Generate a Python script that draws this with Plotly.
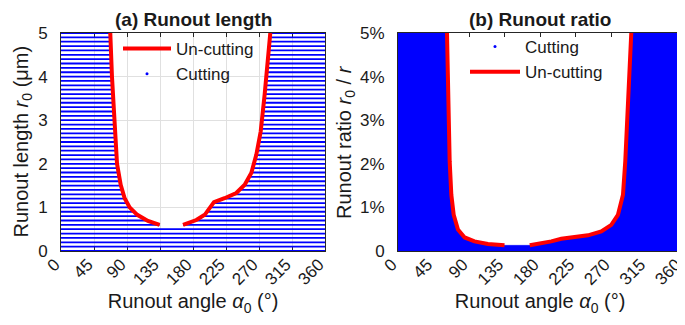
import numpy as np
import plotly.graph_objects as go

# ---------------- data ----------------
# Panel (a): boundary of the un-cutting region (angle in deg, runout length in um)
a_left_angle = [134.5, 118.6, 104.0, 93.6, 86.8, 81.4, 76.4, 72.3, 69.5, 67.2]
a_left_r0 = [0.60, 0.69, 0.83, 1.00, 1.21, 1.52, 2.00, 3.00, 4.00, 5.00]
a_right_angle = [166.4, 184.5, 196.0, 202.8, 208.6, 223.0, 239.0, 250.5, 259.5, 266.4, 272.3, 277.7, 282.3, 285.4]
a_right_r0 = [0.60, 0.71, 0.83, 0.98, 1.12, 1.21, 1.33, 1.52, 1.79, 2.21, 2.74, 3.59, 4.35, 5.00]
# sampled runout-length levels of the cutting grid (um)
a_levels = [0.0, 0.1, 0.2, 0.3, 0.4, 0.5, 0.6, 0.7, 0.8, 0.9,
            1.0, 1.1, 1.2, 1.3, 1.4, 1.5, 1.6, 1.7, 1.8, 1.9,
            2.0, 2.1, 2.2, 2.3, 2.4, 2.5, 2.6, 2.7, 2.8, 2.9,
            3.0, 3.1, 3.2, 3.3, 3.4, 3.5, 3.6, 3.7, 3.8, 3.9,
            4.0, 4.1, 4.2, 4.3, 4.4, 4.5, 4.6, 4.7, 4.8, 4.9, 5.0]

# Panel (b): boundary of the un-cutting region (angle in deg, runout ratio in %)
b_left_angle = [62.1, 63.4, 65.5, 67.6, 70.6, 76.0, 84.5, 97.0, 114.0, 135.0]
b_left_ratio = [5.0, 3.58, 2.06, 1.29, 0.83, 0.49, 0.31, 0.22, 0.16, 0.13]
b_right_angle = [167.0, 177.4, 194.3, 207.0, 219.6, 240.8, 257.7, 270.4, 278.8, 285.2, 288.1, 290.7, 293.6, 295.7]
b_right_ratio = [0.13, 0.16, 0.22, 0.28, 0.31, 0.36, 0.45, 0.60, 0.83, 1.29, 2.06, 3.20, 4.35, 5.0]

x_ticks = [0, 45, 90, 135, 180, 225, 270, 315, 360]
a_yticks = [0, 1, 2, 3, 4, 5]
b_yticks = [0, 1, 2, 3, 4, 5]
b_yticktext = ["0", "1%", "2%", "3%", "4%", "5%"]

X_MIN, X_MAX = 0, 360
A_MAX = 5
B_MAX = 5

BLUE = "#0000ff"
RED = "#ff0000"
TXT = "#1a1a1a"
FONT = "Liberation Sans, Arial, sans-serif"

fig = go.Figure()

# ---- panel (a): cutting grid rows drawn as horizontal stripes ----
order_l = np.argsort(a_left_r0)
order_r = np.argsort(a_right_r0)
lr = np.array(a_left_r0)[order_l]; la = np.array(a_left_angle)[order_l]
rr = np.array(a_right_r0)[order_r]; ra = np.array(a_right_angle)[order_r]
r_start = min(lr[0], rr[0])
sx, sy = [], []
for r in a_levels:
    if r < r_start - 1e-9:
        sx += [X_MIN, X_MAX, None]; sy += [r, r, None]
    else:
        L = float(np.interp(r, lr, la)); R = float(np.interp(r, rr, ra))
        sx += [X_MIN, L, None, R, X_MAX, None]; sy += [r, r, None, r, r, None]
fig.add_trace(go.Scatter(x=sx, y=sy, mode="lines", line=dict(color=BLUE, width=1.8),
                         showlegend=False, hoverinfo="skip", xaxis="x", yaxis="y"))
fig.add_trace(go.Scatter(x=[None], y=[None], mode="markers", name="Cutting",
                         marker=dict(color=BLUE, size=3), legend="legend", legendrank=2,
                         xaxis="x", yaxis="y"))
fig.add_trace(go.Scatter(x=a_left_angle + [None] + a_right_angle,
                         y=a_left_r0 + [None] + a_right_r0,
                         mode="lines", name="Un-cutting", line=dict(color=RED, width=4),
                         legend="legend", legendrank=1, xaxis="x", yaxis="y"))

# ---- panel (b): cutting region as a solid fill ----
poly_x = [X_MIN, X_MIN] + b_left_angle + b_right_angle + [X_MAX, X_MAX]
poly_y = [0, B_MAX] + b_left_ratio + b_right_ratio + [B_MAX, 0]
fig.add_trace(go.Scatter(x=poly_x, y=poly_y, mode="lines", fill="toself",
                         fillcolor=BLUE, line=dict(color=BLUE, width=0.5),
                         showlegend=False, hoverinfo="skip", xaxis="x2", yaxis="y2"))
fig.add_trace(go.Scatter(x=[None], y=[None], mode="markers", name="Cutting",
                         marker=dict(color=BLUE, size=3), legend="legend2", legendrank=1,
                         xaxis="x2", yaxis="y2"))
fig.add_trace(go.Scatter(x=b_left_angle + [None] + b_right_angle,
                         y=b_left_ratio + [None] + b_right_ratio,
                         mode="lines", name="Un-cutting", line=dict(color=RED, width=4),
                         legend="legend2", legendrank=2, xaxis="x2", yaxis="y2"))

W, H = 685, 325
ml, mr, mt, mb = 53, 11, 25, 82
pw = W - ml - mr
ph = H - mt - mb


def px_x(px):
    return (px - ml) / pw


def px_y(py):  # py measured from top of the page
    return (H - py - mb) / ph


common_x = dict(range=[X_MIN, X_MAX], tickvals=x_ticks, tickangle=-45,
                tickfont=dict(size=17, color=TXT, family=FONT),
                ticks="inside", ticklen=4, tickcolor="#262626",
                showline=True, linecolor="#262626", linewidth=1, mirror="ticks",
                zeroline=False, layer="below traces", ticklabelstandoff=-4,
                ticklabelshift=-6, automargin=False,
                title=dict(text="Runout angle <i>α</i><sub>0</sub> (°)",
                           font=dict(size=20, color=TXT, family=FONT), standoff=6))
common_y = dict(tickfont=dict(size=17, color=TXT, family=FONT),
                ticks="inside", ticklen=4, tickcolor="#262626",
                showline=True, linecolor="#262626", linewidth=1, mirror="ticks",
                zeroline=False, layer="below traces", ticklabelstandoff=9,
                automargin=False)

title_font = dict(size=20, color=TXT, family=FONT)

fig.update_layout(
    width=W, height=H, margin=dict(l=ml, r=mr, t=mt, b=mb, autoexpand=False),
    paper_bgcolor="white", plot_bgcolor="white",
    font=dict(family=FONT, color=TXT),
    xaxis=dict(domain=[0, 264 / pw], anchor="y", showgrid=True, gridcolor="#e0e0e0",
               gridwidth=1, **common_x),
    yaxis=dict(domain=[0, 1], anchor="x", range=[0, A_MAX], tickvals=a_yticks,
               showgrid=True, gridcolor="#e0e0e0", gridwidth=1, **common_y),
    xaxis2=dict(domain=[337 / pw, 1], anchor="y2", showgrid=False, **common_x),
    yaxis2=dict(domain=[0, 1], anchor="x2", range=[0, B_MAX], tickvals=b_yticks,
                ticktext=b_yticktext, showgrid=False, **common_y),
    legend=dict(x=px_x(110), y=px_y(23), xanchor="left", yanchor="top",
                bgcolor="rgba(0,0,0,0)",
                font=dict(size=17, color=TXT, family=FONT), itemwidth=48,
                traceorder="normal"),
    legend2=dict(x=px_x(457), y=px_y(21), xanchor="left", yanchor="top",
                 bgcolor="rgba(0,0,0,0)",
                 font=dict(size=17, color=TXT, family=FONT), itemwidth=50,
                 traceorder="normal"),
    annotations=[
        dict(text="<b>(a) Runout length</b>", x=px_x(185), y=px_y(0),
             xref="paper", yref="paper", xanchor="center", yanchor="top",
             borderpad=0, showarrow=False, font=dict(size=19, color=TXT, family=FONT)),
        dict(text="<b>(b) Runout ratio</b>", x=px_x(532), y=px_y(0),
             xref="paper", yref="paper", xanchor="center", yanchor="top",
             borderpad=0, showarrow=False, font=dict(size=19, color=TXT, family=FONT)),
        dict(text="Runout length <i>r</i><sub>0</sub> (μm)", x=px_x(0), y=px_y(134),
             xref="paper", yref="paper", xanchor="left", yanchor="middle",
             borderpad=0, textangle=-90, showarrow=False, font=title_font),
        dict(text="Runout ratio <i>r</i><sub>0</sub> / <i>r</i>", x=px_x(337), y=px_y(134),
             xref="paper", yref="paper", xanchor="center", yanchor="middle",
             borderpad=0, textangle=-90, showarrow=False, font=title_font),
    ],
)

fig.write_html("out.html")
